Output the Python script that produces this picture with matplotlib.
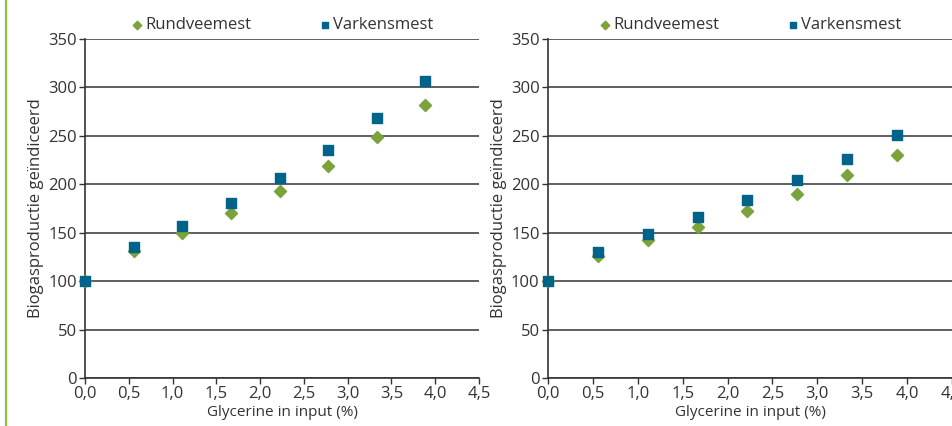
import matplotlib.pyplot as plt
from matplotlib.lines import Line2D

plt.rcParams['font.family'] = ['Open Sans', 'DejaVu Sans']

# glycerine share in input (%)
glyc = [0.0, 0.556, 1.111, 1.667, 2.222, 2.778, 3.333, 3.889]

# left panel
rund_left = [100, 131, 150, 170, 193, 219, 249, 282]
varken_left = [100, 135, 157, 181, 206, 235, 268, 307]

# right panel
rund_right = [100, 126, 142, 156, 172, 190, 210, 230]
varken_right = [100, 130, 149, 166, 184, 204, 226, 251]

xticks = [0, 0.5, 1.0, 1.5, 2.0, 2.5, 3.0, 3.5, 4.0, 4.5]
xlabels = ['0,0', '0,5', '1,0', '1,5', '2,0', '2,5', '3,0', '3,5', '4,0', '4,5']
yticks = [0, 50, 100, 150, 200, 250, 300, 350]

green = '#7aa33b'
blue = '#00648a'
txt = '#333333'

fig = plt.figure(figsize=(9.53, 4.26), dpi=100)

# green bar along the left edge
fig.add_artist(Line2D([0.0068, 0.0068], [0, 1], color='#8cc43f', lw=1.6,
                      transform=fig.transFigure))

ax1 = fig.add_axes([0.0892, 0.1127, 0.4134, 0.7958])
ax2 = fig.add_axes([0.575, 0.1127, 0.424, 0.7958])

for ax, rund, varken in [(ax1, rund_left, varken_left), (ax2, rund_right, varken_right)]:
    ax.scatter(glyc, rund, marker='D', s=38, color=green, zorder=3, clip_on=False,
               label='Rundveemest')
    ax.scatter(glyc, varken, marker='s', s=48, color=blue, zorder=4, clip_on=False,
               label='Varkensmest')
    ax.set_xlim(0, 4.5)
    ax.set_ylim(0, 350)
    ax.set_xticks(xticks)
    ax.set_xticklabels(xlabels)
    ax.set_yticks(yticks)
    ax.yaxis.grid(True, color='#444444', lw=1.2)
    ax.set_axisbelow(True)
    for s in ['top', 'right']:
        ax.spines[s].set_visible(False)
    for s in ['left', 'bottom']:
        ax.spines[s].set_color('#333333')
        ax.spines[s].set_linewidth(1.2)
    ax.tick_params(axis='both', length=4, width=1, color='#333333',
                   labelsize=12, labelcolor=txt, pad=2)
    ax.set_xlabel('Glycerine in input (%)', fontsize=11, color=txt, labelpad=2)
    ax.set_ylabel('Biogasproductie geïndiceerd', fontsize=12, color=txt, labelpad=3)
    ax.legend(loc='lower center', bbox_to_anchor=(0.5, 0.99), ncol=2, frameon=False,
              fontsize=12, handlelength=0.8, handletextpad=0.1, columnspacing=4.0,
              markerscale=0.7, labelcolor=txt, borderaxespad=0.15)

fig.savefig('out.png', dpi=100)
